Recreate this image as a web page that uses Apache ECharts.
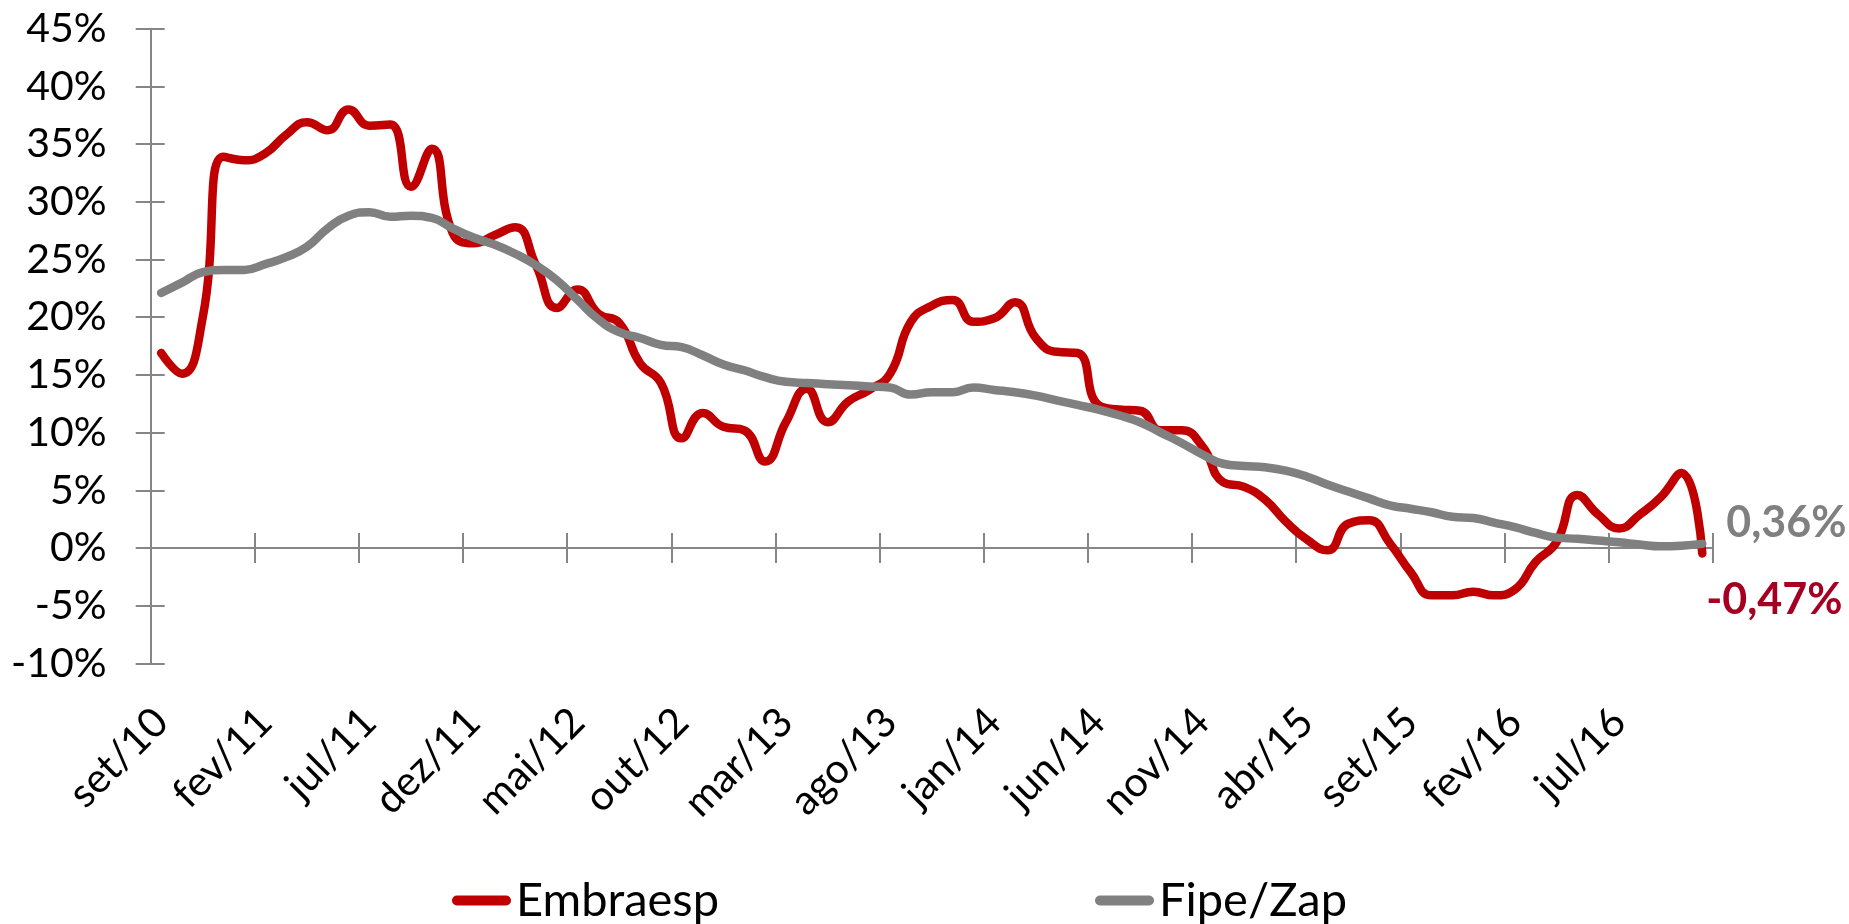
<!DOCTYPE html>
<html>
<head>
<meta charset="utf-8">
<script src="https://cdn.jsdelivr.net/npm/echarts@6/dist/echarts.min.js"></script>
<style>
html,body{margin:0;padding:0;background:#fff;}
#chart{width:1849px;height:924px;}
</style>
</head>
<body>
<div id="chart"></div>
<script>
// Categories (monthly, set/10 .. nov/16)
const months = [
  'set/10','out/10','nov/10','dez/10',
  'jan/11','fev/11','mar/11','abr/11','mai/11','jun/11','jul/11','ago/11','set/11','out/11','nov/11','dez/11',
  'jan/12','fev/12','mar/12','abr/12','mai/12','jun/12','jul/12','ago/12','set/12','out/12','nov/12','dez/12',
  'jan/13','fev/13','mar/13','abr/13','mai/13','jun/13','jul/13','ago/13','set/13','out/13','nov/13','dez/13',
  'jan/14','fev/14','mar/14','abr/14','mai/14','jun/14','jul/14','ago/14','set/14','out/14','nov/14','dez/14',
  'jan/15','fev/15','mar/15','abr/15','mai/15','jun/15','jul/15','ago/15','set/15','out/15','nov/15','dez/15',
  'jan/16','fev/16','mar/16','abr/16','mai/16','jun/16','jul/16','ago/16','set/16','out/16','nov/16'
];

// Embraesp (%, 12-month change)
const embraesp = [
  16.9, 15.1, 20.0, 33.9, 33.6, 34.2, 35.8, 36.9, 36.2, 38.0,
  36.6, 36.7, 31.3, 34.6, 27.3, 26.4, 27.1, 27.8, 24.5, 20.8,
  22.4, 20.3, 19.5, 16.0, 14.3, 9.5, 11.7, 10.5, 10.2, 7.5,
  10.9, 13.8, 10.9, 12.7, 13.7, 15.1, 19.6, 21.0, 21.5, 19.6,
  19.9, 21.3, 18.2, 17.0, 16.9, 12.4, 12.0, 11.9, 10.2, 10.2,
  8.8, 5.7, 5.3, 4.2, 2.3, 0.75, -0.2, 2.1, 2.4, 0.4,
  -2.1, -4.1, -4.1, -3.8, -4.1, -3.6, -1.2, 0.5, 4.6, 2.9,
  1.7, 2.9, 4.4, 6.5, -0.47
];

// Fipe/Zap (%, 12-month change)
const fipeZap = [
  22.1, 23.0, 23.9, 24.1, 24.1, 24.6, 25.2, 26.1, 27.7, 28.8,
  29.1, 28.7, 28.8, 28.6, 27.7, 26.9, 26.3, 25.5, 24.5, 23.2,
  21.5, 19.8, 18.7, 18.2, 17.6, 17.4, 16.7, 15.9, 15.4, 14.8,
  14.4, 14.3, 14.2, 14.1, 14.0, 13.9, 13.3, 13.5, 13.5, 13.9,
  13.7, 13.5, 13.2, 12.8, 12.4, 12.0, 11.5, 10.9, 10.0, 9.1,
  8.1, 7.3, 7.1, 7.0, 6.7, 6.2, 5.5, 4.9, 4.3, 3.7,
  3.4, 3.1, 2.7, 2.6, 2.2, 1.8, 1.3, 0.9, 0.8, 0.65,
  0.5, 0.3, 0.15, 0.2, 0.36
];

// Y axis ticks
const yMin = -10, yMax = 45, yStep = 5;

const FONT = 'Lato';
const AXIS_GRAY = '#868686';
const RED = '#C00000';
const GRAY = '#808080';

function fmtPct(v){ return v.toFixed(2).replace('.', ',') + '%'; }

const chart = echarts.init(document.getElementById('chart'), null, {renderer:'canvas'});

const pillIcon = 'path://M5,0 L54,0 A5,5 0 0 1 54,10 L5,10 A5,5 0 0 1 5,0 Z';

const catBase = {
  type: 'category',
  data: months,
  boundaryGap: true,
  gridIndex: 0
};

chart.setOption({
  animation: false,
  backgroundColor: '#ffffff',
  grid: {
    left: 150.7, right: 136.3, top: 28.7, bottom: 260.6,
    containLabel: false, outerBoundsMode: 'none'
  },
  legend: [
    {
      data: ['Embraesp'], left: 447, top: 872,
      icon: pillIcon, itemWidth: 59, itemHeight: 10, itemGap: 0,
      textStyle: { fontFamily: FONT, fontSize: 47, color: '#000' }
    },
    {
      data: ['Fipe/Zap'], left: 1090, top: 872,
      icon: pillIcon, itemWidth: 59, itemHeight: 10, itemGap: 0,
      textStyle: { fontFamily: FONT, fontSize: 47, color: '#000' }
    }
  ],
  xAxis: [
    Object.assign({}, catBase, {
      position: 'bottom',
      axisLine: { show: false, onZero: false },
      axisTick: { show: false },
      axisLabel: {
        interval: 4, rotate: 45, margin: 52,
        fontFamily: FONT, fontSize: 41, color: '#000'
      },
      splitLine: { show: false }
    }),
    Object.assign({}, catBase, {
      position: 'bottom',
      axisLine: { show: true, onZero: true, onZeroAxisIndex: 0, lineStyle: { color: AXIS_GRAY, width: 2 } },
      axisTick: { show: true, interval: 4, length: 15, inside: false, lineStyle: { color: AXIS_GRAY, width: 2 } },
      axisLabel: { show: false },
      splitLine: { show: false }
    }),
    Object.assign({}, catBase, {
      position: 'bottom',
      axisLine: { show: false, onZero: true, onZeroAxisIndex: 0 },
      axisTick: { show: true, interval: 4, length: 15, inside: true, lineStyle: { color: AXIS_GRAY, width: 2 } },
      axisLabel: { show: false },
      splitLine: { show: false }
    })
  ],
  yAxis: [
    {
      type: 'value', min: yMin, max: yMax, interval: yStep,
      position: 'left',
      axisLine: { show: true, onZero: false, lineStyle: { color: AXIS_GRAY, width: 2 } },
      axisTick: { show: true, length: 15, inside: false, lineStyle: { color: AXIS_GRAY, width: 2 } },
      axisLabel: {
        margin: 44, fontFamily: FONT, fontSize: 41, color: '#000',
        formatter: v => v + '%'
      },
      splitLine: { show: false }
    },
    {
      type: 'value', min: yMin, max: yMax, interval: yStep,
      position: 'left',
      axisLine: { show: false, onZero: false },
      axisTick: { show: true, length: 14, inside: true, lineStyle: { color: AXIS_GRAY, width: 2 } },
      axisLabel: { show: false },
      splitLine: { show: false }
    }
  ],
  series: [
    {
      name: 'Embraesp', type: 'line', data: embraesp,
      xAxisIndex: 0, yAxisIndex: 0,
      smooth: 0.5, showSymbol: false, symbol: 'none',
      lineStyle: { color: RED, width: 8.5, cap: 'round', join: 'round' },
      itemStyle: { color: RED },
      endLabel: {
        show: true, offset: [-4, 47],
        formatter: p => fmtPct(p.value),
        fontFamily: FONT, fontWeight: 'bold', fontSize: 43, color: '#A50021'
      },
      z: 2
    },
    {
      name: 'Fipe/Zap', type: 'line', data: fipeZap,
      xAxisIndex: 0, yAxisIndex: 0,
      smooth: 0.5, showSymbol: false, symbol: 'none',
      lineStyle: { color: GRAY, width: 8.5, cap: 'round', join: 'round' },
      itemStyle: { color: GRAY },
      endLabel: {
        show: true, offset: [16, -21],
        formatter: p => fmtPct(p.value),
        fontFamily: FONT, fontWeight: 'bold', fontSize: 43, color: '#808080'
      },
      z: 3
    }
  ]
});
</script>
</body>
</html>
